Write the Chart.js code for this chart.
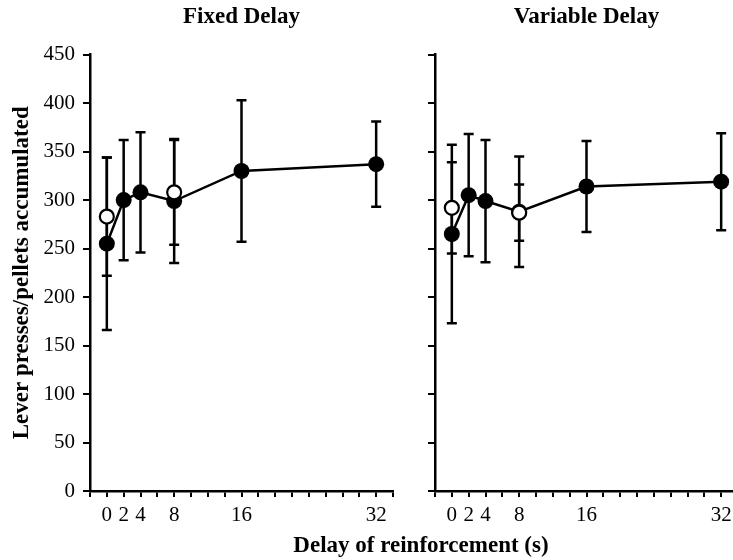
<!DOCTYPE html>
<html>
<head>
<meta charset="utf-8">
<script src="https://cdn.jsdelivr.net/npm/chart.js@4"></script>
<style>
  html, body { margin: 0; padding: 0; background: #fff; }
  body { width: 733px; height: 560px; position: relative; overflow: hidden; }
  #left-wrap { position: absolute; left: 0; top: 0; width: 415px; height: 560px; }
  #right-wrap { position: absolute; left: 400px; top: 0; width: 360px; height: 560px; }
  #x-title {
    position: absolute; left: 221px; width: 400px; top: 531px;
    text-align: center; font: bold 23px "Liberation Serif", serif; line-height: 28px; color: #000;
  }
</style>
</head>
<body>
<div id="left-wrap"><canvas id="fixed-chart" width="415" height="560"></canvas></div>
<div id="right-wrap"><canvas id="variable-chart" width="360" height="560"></canvas></div>
<div id="x-title">Delay of reinforcement (s)</div>
<script>
const delays = [0, 2, 4, 8, 16, 32];
const probeDelays = [0, 8];
const xTickLabels = [0, 2, 4, 8, 16, 32];
const yTicks = [0, 50, 100, 150, 200, 250, 300, 350, 400, 450];

const fixedMeans = [255, 300, 308, 299, 330, 337];
const fixedErr = [89, 62, 62, 64, 73, 44];
const fixedProbeMeans = [283, 308];
const fixedProbeErr = [61, 54];

const variableMeans = [265, 305, 299, 288, 314, 319];
const variableErr = [92, 63, 63, 57, 47, 50];
const variableProbeMeans = [292, 287];
const variableProbeErr = [47, 29];

const serif = '"Liberation Serif", "Times New Roman", serif';

// draws vertical error bars under the markers
const errorBars = {
    id: 'errorBars',
    beforeDatasetsDraw(chart) {
        const ctx = chart.ctx;
        const xs = chart.scales.x;
        const ys = chart.scales.y;
        ctx.save();
        ctx.strokeStyle = '#000';
        ctx.lineWidth = 2.5;
        chart.data.datasets.forEach(ds => {
            if (!ds.errors) return;
            ds.data.forEach((pt, i) => {
                const e = ds.errors[i];
                const px = xs.getPixelForValue(pt.x);
                const top = ys.getPixelForValue(pt.y + e);
                const bot = ys.getPixelForValue(pt.y - e);
                ctx.beginPath();
                ctx.moveTo(px, top);
                ctx.lineTo(px, bot);
                ctx.moveTo(px - 5, top);
                ctx.lineTo(px + 5, top);
                ctx.moveTo(px - 5, bot);
                ctx.lineTo(px + 5, bot);
                ctx.stroke();
            });
        });
        ctx.restore();
    }
};

function points(xsArr, ysArr) {
    return xsArr.map((x, i) => ({ x: x, y: ysArr[i] }));
}

function makeChart(id, title, means, errs, probeMeans, probeErrs, showYLabels) {
    const ctx = document.getElementById(id).getContext('2d');
    return new Chart(ctx, {
        type: 'line',
        data: {
            datasets: [
                {
                    // open circles (probe sessions), drawn on top
                    data: points(probeDelays, probeMeans),
                    errors: probeErrs,
                    showLine: false,
                    pointRadius: 7,
                    pointBorderWidth: 2.2,
                    pointBorderColor: '#000',
                    pointBackgroundColor: '#fff'
                },
                {
                    data: points(delays, means),
                    errors: errs,
                    borderColor: '#000',
                    borderWidth: 2.5,
                    tension: 0,
                    pointRadius: 8,
                    pointBorderWidth: 0,
                    pointBackgroundColor: '#000'
                }
            ]
        },
        options: {
            responsive: false,
            animation: false,
            layout: { padding: { top: 0, right: 22, bottom: 0, left: 0 } },
            plugins: {
                legend: { display: false },
                tooltip: { enabled: false },
                title: {
                    display: true,
                    text: title,
                    fullSize: false,
                    color: '#000',
                    font: { family: serif, size: 23, weight: 'bold' },
                    padding: { top: 3, bottom: 24 }
                }
            },
            scales: {
                x: {
                    type: 'linear',
                    min: -2,
                    max: 34,
                    afterBuildTicks: scale => {
                        const t = [];
                        for (let v = -2; v <= 34; v += 2) t.push({ value: v });
                        scale.ticks = t;
                    },
                    afterFit: scale => { scale.height = 69; },
                    ticks: {
                        autoSkip: false,
                        maxRotation: 0,
                        padding: 6,
                        color: '#000',
                        font: { family: serif, size: 21 },
                        callback: v => xTickLabels.includes(v) ? String(v) : ''
                    },
                    grid: { drawOnChartArea: false, drawTicks: true, tickLength: 6, color: '#000', lineWidth: 2 },
                    border: { color: '#000', width: 2.5 }
                },
                y: {
                    min: 0,
                    max: 450,
                    afterBuildTicks: scale => { scale.ticks = yTicks.map(v => ({ value: v })); },
                    afterFit: scale => { scale.width = showYLabels ? 90 : 35; },
                    ticks: {
                        display: showYLabels,
                        padding: 8,
                        color: '#000',
                        font: { family: serif, size: 21 }
                    },
                    title: {
                        display: showYLabels,
                        text: 'Lever presses/pellets accumulated',
                        color: '#000',
                        font: { family: serif, size: 23, weight: 'bold' },
                        padding: { top: 8, bottom: 0 }
                    },
                    grid: { drawOnChartArea: false, drawTicks: true, tickLength: 7, color: '#000', lineWidth: 2 },
                    border: { color: '#000', width: 2.5 }
                }
            }
        },
        plugins: [errorBars]
    });
}

makeChart('fixed-chart', 'Fixed Delay', fixedMeans, fixedErr, fixedProbeMeans, fixedProbeErr, true);
makeChart('variable-chart', 'Variable Delay', variableMeans, variableErr, variableProbeMeans, variableProbeErr, false);
</script>
</body>
</html>
